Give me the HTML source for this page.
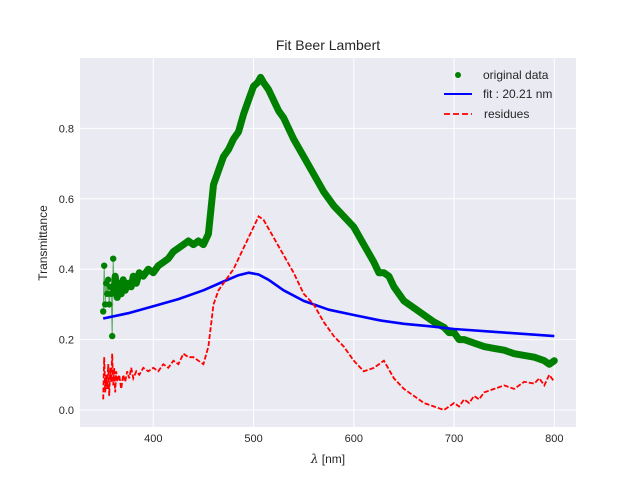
<!DOCTYPE html>
<html><head><meta charset="utf-8"><style>
body{margin:0;background:#fff;}
svg{font-family:"Liberation Sans","DejaVu Sans",sans-serif;}
</style></head><body>
<svg id="chart" width="640" height="480" xmlns="http://www.w3.org/2000/svg">
<rect x="0" y="0" width="640" height="480" fill="#fff"/>
<rect x="80" y="58" width="496" height="369" fill="#eaeaf2"/>
<g id="grid"></g><g id="series"></g><g id="ticks"></g>
<text x="328" y="50" text-anchor="middle" font-size="14" fill="#262626">Fit Beer Lambert</text>
<text x="328" y="463" text-anchor="middle" font-size="12" fill="#262626"><tspan font-style="italic" font-family="DejaVu Serif, serif">λ</tspan> [nm]</text>
<text transform="translate(47,243) rotate(-90)" text-anchor="middle" font-size="12" fill="#262626">Transmittance</text>
<g>
<circle cx="458" cy="75" r="3" fill="green"/>
<text x="483" y="79" font-size="12" fill="#262626">original data</text>
<line x1="444" y1="94" x2="472" y2="94" stroke="blue" stroke-width="2"/>
<text x="483" y="98" font-size="12" fill="#262626">fit : 20.21 nm</text>
<line x1="444" y1="114" x2="472" y2="114" stroke="red" stroke-width="1.8" stroke-dasharray="6,3"/>
<text x="484" y="118" font-size="12" fill="#262626">residues</text>
</g>
</svg>
<script>
const dataX=[350,351,352,353,354,355,356,357,358,359,360,361,362,364,366,368,370,372,375,378,380,383,386,390,395,400,405,410,415,420,425,430,435,440,445,450,455,460,465,470,475,480,485,490,495,500,504,507,510,515,520,525,530,540,550,560,570,580,590,600,610,620,625,630,635,640,650,660,670,680,690,695,700,705,710,720,730,740,750,760,770,780,790,795,800];
const dataY=[0.28,0.41,0.30,0.36,0.33,0.37,0.30,0.35,0.33,0.21,0.43,0.34,0.38,0.32,0.36,0.33,0.37,0.34,0.36,0.35,0.38,0.36,0.39,0.38,0.40,0.39,0.41,0.42,0.43,0.45,0.46,0.47,0.48,0.47,0.48,0.47,0.50,0.64,0.68,0.72,0.74,0.77,0.79,0.84,0.88,0.92,0.93,0.945,0.93,0.91,0.88,0.85,0.83,0.77,0.72,0.67,0.62,0.58,0.55,0.52,0.47,0.42,0.39,0.39,0.38,0.35,0.31,0.29,0.27,0.25,0.235,0.22,0.22,0.20,0.20,0.19,0.18,0.175,0.17,0.16,0.155,0.15,0.14,0.13,0.14];
const fitX=[350,375,400,425,450,470,485,495,505,515,530,550,575,600,625,650,675,700,750,800];
const fitY=[0.26,0.275,0.295,0.315,0.34,0.365,0.383,0.39,0.385,0.37,0.34,0.31,0.285,0.27,0.255,0.245,0.238,0.23,0.22,0.21];
const resX=[350,351,352,353,354,355,356,357,358,359,360,361,362,363,364,366,368,370,372,374,376,378,380,383,386,390,395,400,405,410,415,420,425,430,435,440,445,450,455,460,465,470,480,490,500,505,510,520,530,540,550,560,570,580,590,600,610,620,630,640,650,660,670,680,690,700,705,710,715,720,725,730,740,750,760,770,780,785,790,795,800];
const resY=[0.03,0.15,0.05,0.10,0.06,0.13,0.04,0.12,0.08,0.16,0.07,0.12,0.05,0.11,0.08,0.10,0.06,0.10,0.08,0.11,0.09,0.12,0.09,0.11,0.10,0.12,0.11,0.12,0.11,0.13,0.12,0.14,0.13,0.16,0.15,0.15,0.14,0.13,0.18,0.30,0.34,0.36,0.40,0.46,0.52,0.55,0.54,0.49,0.44,0.39,0.33,0.30,0.25,0.21,0.18,0.14,0.11,0.12,0.14,0.09,0.06,0.04,0.02,0.01,0.0,0.02,0.01,0.03,0.02,0.04,0.03,0.05,0.06,0.07,0.06,0.08,0.075,0.09,0.07,0.10,0.08];
const xTicks=[400,500,600,700,800];
const yTicks=[0.0,0.2,0.4,0.6,0.8];
const NS="http://www.w3.org/2000/svg";
const sx=v=>153.3+(v-400)*1.0025;
const sy=v=>410-v*352;
function mk(tag,attrs,parent){const e=document.createElementNS(NS,tag);for(const k in attrs)e.setAttribute(k,attrs[k]);document.getElementById(parent).appendChild(e);return e;}
xTicks.forEach(t=>{
 const l=mk('line',{x1:sx(t),x2:sx(t),y1:58,y2:427,stroke:'#fff','stroke-width':1},'grid');
 
 
 const tx=mk('text',{x:sx(t),y:442,'text-anchor':'middle','font-size':11,fill:'#262626'},'ticks');
 
 
 tx.textContent=t;
});
yTicks.forEach(t=>{
 const l=mk('line',{x1:80,x2:576,y1:sy(t),y2:sy(t),stroke:'#fff','stroke-width':1},'grid');
 
 
 const tx=mk('text',{x:74,y:sy(t)+4,'text-anchor':'end','font-size':11,fill:'#262626'},'ticks');
 
 
 tx.textContent=t.toFixed(1);
});
const pts=(xs,ys)=>xs.map((x,i)=>sx(x).toFixed(1)+','+sy(ys[i]).toFixed(1)).join(' ');
const thin=mk('polyline',{points:pts(dataX,dataY),fill:'none',stroke:'green','stroke-width':1,opacity:0.6},'series');


const thick=mk('polyline',{points:pts(dataX.slice(11),dataY.slice(11)),fill:'none',stroke:'green','stroke-width':7,'stroke-linejoin':'round','stroke-linecap':'round'},'series');


dataX.forEach((x,i)=>{
 const c=mk('circle',{cx:sx(x),cy:sy(dataY[i]),r:3.2,fill:'green'},'series');
 
 
});
const fit=mk('polyline',{points:pts(fitX,fitY),fill:'none',stroke:'blue','stroke-width':2.6,'stroke-linejoin':'round'},'series');


const res=mk('polyline',{points:pts(resX,resY),fill:'none',stroke:'red','stroke-width':1.8,'stroke-dasharray':'5,2'},'series');


</script>
</body></html>
